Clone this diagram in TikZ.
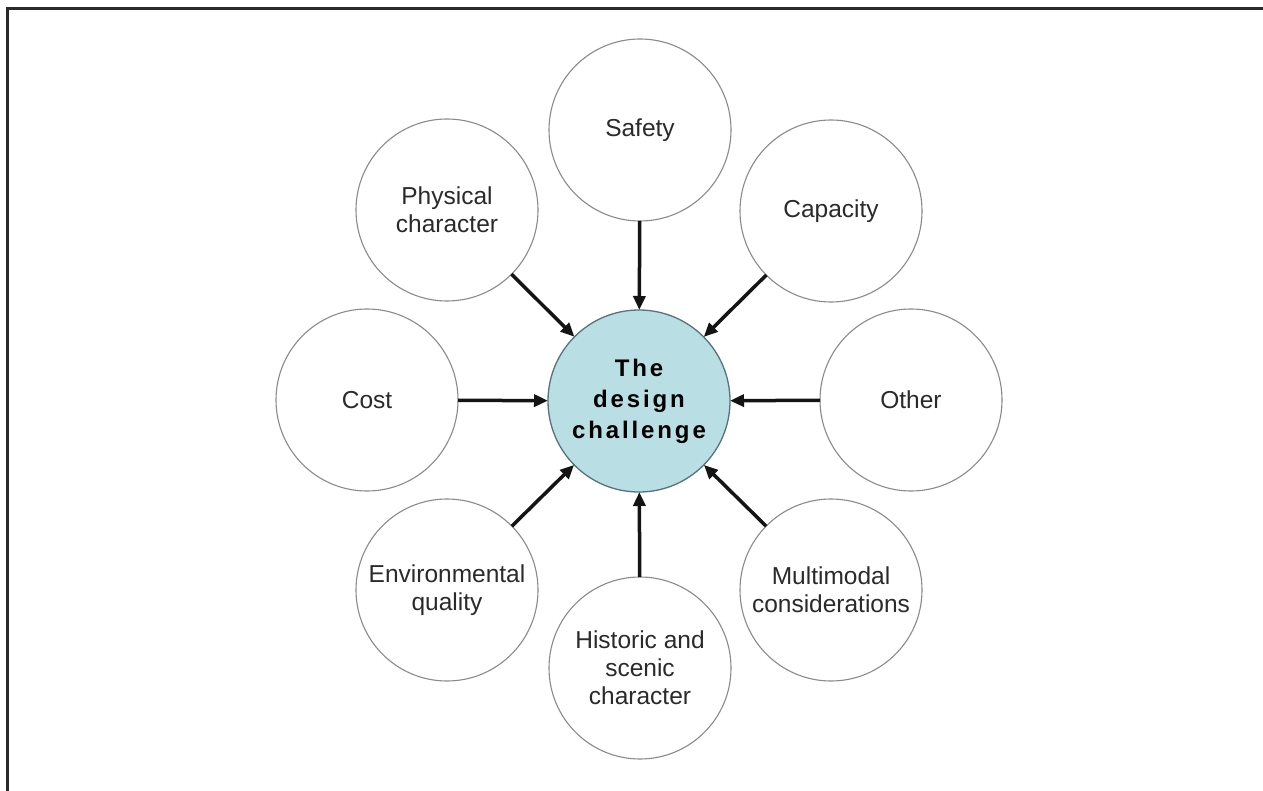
\documentclass[tikz,border=0pt]{standalone}
\usepackage{fontspec}
\setmainfont{Liberation Sans}
\newfontfamily\hubfont[LetterSpace=12]{Liberation Sans}
\usetikzlibrary{arrows.meta}
\definecolor{framegray}{HTML}{2A2A2A}
\definecolor{ringgray}{HTML}{8A8A8A}
\definecolor{hubfill}{HTML}{B9DEE4}
\definecolor{hubline}{HTML}{55737A}
\definecolor{textgray}{HTML}{2A2A2A}
\begin{document}
\begin{tikzpicture}[x=1pt,y=-1pt,
  ring/.style={circle, draw=ringgray, line width=1.1pt, fill=white,
    minimum size=182pt, inner sep=0pt, outer sep=0pt, align=center,
    text=textgray, font=\fontsize{24.5}{28}\selectfont},
  hub/.style={circle, draw=hubline, line width=1.3pt, fill=hubfill,
    minimum size=182pt, inner sep=0pt, outer sep=0pt, align=center,
    text=black, font=\fontsize{24}{31}\selectfont\hubfont\bfseries},
  feed/.style={line width=3.5pt, color=black!92,
    -{Triangle[length=14pt,width=12pt]}}
]
\useasboundingbox (0,0) rectangle (1263,791);
\fill[white] (0,0) rectangle (1263,791);
\draw[line width=3pt, color=framegray] (1263,8.5) -- (7.5,8.5) -- (7.5,791);

\node[hub] (hub) at (639,401) {The\\design\\challenge};

\node[ring] (safety)   at (640,130) {Safety};
\node[ring] (capacity) at (831,211) {Capacity};
\node[ring] (other)    at (911,400) {Other};
\node[ring] (multi)    at (831,590) {Multimodal\\considerations};
\node[ring] (historic) at (640,668) {Historic and\\scenic\\character};
\node[ring] (env)      at (447,590) {Environmental\\quality};
\node[ring] (cost)     at (367,400) {Cost};
\node[ring] (phys)     at (447,210) {Physical\\character};

\foreach \n in {safety,capacity,other,multi,historic,env,cost,phys}
  \draw[feed] (\n) -- (hub);
\end{tikzpicture}
\end{document}
